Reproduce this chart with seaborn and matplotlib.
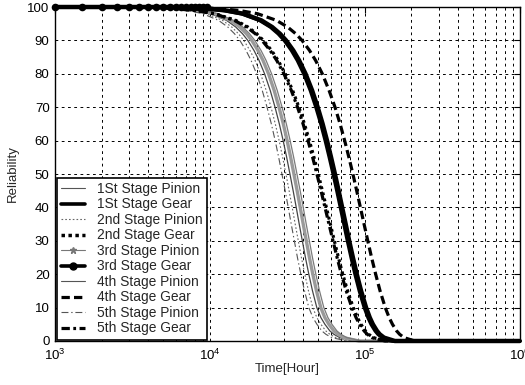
import matplotlib
matplotlib.use("Agg")
import matplotlib.pyplot as plt
from matplotlib.lines import Line2D
from matplotlib.ticker import LogLocator, NullFormatter
import seaborn as sns

# Reliability levels (%) shared by all curves, and the hour at which each curve reaches them
levels = [100, 100, 99.5, 99, 98, 96, 94, 92, 90, 87, 84, 80, 75, 70, 65, 60, 55, 50,
          45, 40, 35, 30, 25, 20, 15, 10, 7, 5, 3, 2, 1, 0, 0]

h_1st_pinion = [1000, 4760, 6360, 8010, 10100, 12780, 14670, 16210, 17540, 19230, 20740, 22510,
                24490, 26300, 28030, 29670, 31260, 32820, 34420, 36040, 37680, 39460, 41320,
                43460, 45910, 48940, 52010, 55200, 59470, 63100, 68990, 86160, 1000000]
h_1st_gear = [1000, 5800, 9320, 12210, 15970, 20920, 24580, 27580, 30200, 33610, 36690, 40360,
              44510, 48330, 52020, 55530, 58970, 62460, 65980, 69540, 73290, 77210, 81590,
              86450, 92160, 99250, 104860, 109800, 116710, 121650, 129690, 152240, 1000000]
h_2nd_pinion = [1000, 4480, 5990, 7550, 9510, 12040, 13820, 15270, 16520, 18110, 19540, 21200,
                23070, 24770, 26400, 27950, 29450, 30920, 32420, 33950, 35490, 37170, 38920,
                40940, 43250, 46100, 48990, 52000, 56020, 59440, 64990, 81160, 1000000]
h_2nd_gear = [1000, 4180, 5920, 8000, 10810, 14660, 17580, 20000, 22110, 24950, 27520, 30620,
              34180, 37490, 40700, 43810, 46910, 49990, 53130, 56400, 59840, 63500, 67480,
              71940, 77380, 84100, 89520, 94270, 100950, 105860, 113530, 137280, 1000000]
h_3rd_pinion = [1000, 5050, 6750, 8500, 10720, 13560, 15560, 17200, 18610, 20400, 22000, 23880,
                25980, 27900, 29740, 31480, 33170, 34820, 36520, 38240, 39980, 41870, 43840,
                46110, 48710, 51930, 55180, 58570, 63100, 66950, 73200, 91420, 1000000]
h_3rd_gear = [1000, 5950, 9560, 12520, 16380, 21460, 25210, 28290, 30970, 34470, 37630, 41390,
              45650, 49570, 53350, 56950, 60480, 64060, 67670, 71320, 75170, 79190, 83680,
              88670, 94520, 101790, 107550, 112620, 119700, 124770, 133020, 156140, 1000000]
h_4th_pinion = [1000, 5280, 7060, 8890, 11210, 14190, 16280, 17990, 19470, 21350, 23020, 24990,
                27180, 29190, 31110, 32930, 34700, 36430, 38210, 40000, 41820, 43800, 45870,
                48240, 50960, 54320, 57730, 61270, 66010, 70040, 76580, 95640, 1000000]
h_4th_gear = [1000, 6900, 11570, 15300, 20250, 26850, 31710, 35770, 39290, 43910, 48070, 53110,
              58750, 64150, 69180, 74040, 78850, 83680, 88550, 93540, 98810, 104400, 110460,
              117400, 125350, 135400, 143500, 150710, 160420, 167700, 179000, 210200, 1000000]
h_5th_pinion = [1000, 4230, 5650, 7110, 8970, 11350, 13030, 14390, 15580, 17080, 18420, 19990,
                21750, 23350, 24890, 26350, 27760, 29140, 30570, 32000, 33460, 35040, 36690,
                38590, 40770, 43460, 46180, 49020, 52810, 56030, 61260, 76510, 1000000]
h_5th_gear = [1000, 4100, 5800, 7840, 10600, 14370, 17230, 19610, 21680, 24460, 26980, 30020,
              33510, 36750, 39900, 42950, 45990, 49010, 52090, 55290, 58670, 62250, 66160,
              70530, 75860, 82450, 87760, 92420, 98970, 103780, 111300, 134590, 1000000]

# 3rd stage gear marker points visible along the flat top
gear3_marker_hours = [1000, 1500, 2000, 2500, 3000, 3500, 4000, 4500, 5000, 5500, 6000, 6500,
                      7000, 7500, 8000, 8500, 9000, 9500]
gear3_marker_rel = [100, 100, 100, 100, 100, 100, 100, 100, 100, 100, 100, 100,
                    100, 100, 100, 100, 100, 100]

labels = ["1St Stage Pinion", "1St Stage Gear", "2nd Stage Pinion", "2nd Stage Gear",
          "3rd Stage Pinion", "3rd Stage Gear", "4th Stage Pinion", "4th Stage Gear",
          "5th Stage Pinion", "5th Stage Gear"]
x_ticks = [1e3, 1e4, 1e5, 1e6]
y_ticks = [0, 10, 20, 30, 40, 50, 60, 70, 80, 90, 100]

sns.set_theme(style="white")
plt.rcParams["font.family"] = ["Liberation Sans", "DejaVu Sans"]
plt.rcParams["lines.scale_dashes"] = False

fig = plt.figure(figsize=(5.25, 3.85), dpi=100)
ax = fig.add_axes([0.105, 0.1143, 0.885, 0.8675])

styles = [
    # (hours, color, lw, dashes or None)
    (h_5th_pinion, "#555555", 0.8, (5, 2, 1, 2)),
    (h_2nd_pinion, "#666666", 0.8, (1.2, 1.5)),
    (h_1st_pinion, "#444444", 0.9, None),
    (h_3rd_pinion, "#9a9a9a", 2.4, None),
    (h_4th_pinion, "#7a7a7a", 0.9, None),
    (h_5th_gear, "black", 2.3, (6, 2.5, 2, 2.5)),
    (h_2nd_gear, "black", 2.3, (2, 2.5)),
    (h_1st_gear, "black", 2.6, None),
    (h_3rd_gear, "black", 3.2, None),
    (h_4th_gear, "black", 2.3, (6, 3)),
]
for hrs, col, lw, dash in styles:
    sns.lineplot(x=hrs, y=levels, ax=ax, sort=False, estimator=None,
                 color=col, lw=lw, legend=False)
    ln = ax.lines[-1]
    if dash is not None:
        ln.set_dashes(dash)
        ln.set_dash_capstyle("butt")
    ln.set_clip_on(False)

sns.scatterplot(x=gear3_marker_hours, y=gear3_marker_rel, ax=ax, color="black",
                s=30, edgecolor="black", linewidth=0, legend=False, clip_on=False, zorder=5)

ax.set_xscale("log")
ax.set_xlim(1e3, 1e6)
ax.set_ylim(0, 100)
ax.set_xticks(x_ticks)
ax.xaxis.set_minor_locator(LogLocator(base=10, subs=range(2, 10)))
ax.xaxis.set_minor_formatter(NullFormatter())
ax.set_yticks(y_ticks)

grid_kw = dict(color="black", lw=0.7, linestyle=(0, (2, 2.5)))
ax.grid(True, which="both", axis="x", **grid_kw)
ax.grid(True, which="major", axis="y", **grid_kw)
ax.set_axisbelow(True)

ax.tick_params(axis="both", which="both", direction="in", top=True, right=True,
               labelsize=9.5, colors="black")
ax.tick_params(which="major", length=4, width=0.8)
ax.tick_params(which="minor", length=2.5, width=0.6)
ax.tick_params(axis="x", pad=5)
ax.tick_params(axis="y", pad=4)
for sp in ax.spines.values():
    sp.set_color("black")
    sp.set_linewidth(1.0)

ax.set_xlabel("Time[Hour]", fontsize=9.5, labelpad=0)
ax.set_ylabel("Reliability", fontsize=9.5, labelpad=6)

handles = [
    Line2D([], [], color="#555555", lw=0.8),
    Line2D([], [], color="black", lw=2.6),
    Line2D([], [], color="#666666", lw=0.8, dashes=(1.2, 1.5)),
    Line2D([], [], color="black", lw=2.5, dashes=(2.5, 2.5)),
    Line2D([], [], color="#777777", lw=0.8, marker="*", markersize=5),
    Line2D([], [], color="black", lw=2.6, marker="o", markersize=5),
    Line2D([], [], color="#555555", lw=0.8),
    Line2D([], [], color="black", lw=2.3, dashes=(6, 3)),
    Line2D([], [], color="#555555", lw=0.8, dashes=(5, 2, 1, 2)),
    Line2D([], [], color="black", lw=2.3, dashes=(6, 2.5, 2, 2.5)),
]
leg = ax.legend(handles, labels, loc="lower left", bbox_to_anchor=(0.0, 0.0),
                fontsize=9.9, frameon=True, fancybox=False, framealpha=1,
                edgecolor="black", borderpad=0.3, labelspacing=0.11,
                handlelength=1.8, handletextpad=0.85, borderaxespad=0.1)
leg.get_frame().set_linewidth(1.2)

fig.savefig("out.png", dpi=100)
